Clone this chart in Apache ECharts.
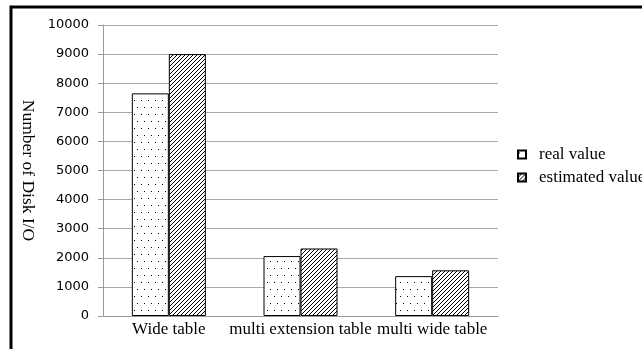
<!DOCTYPE html>
<html>
<head>
<meta charset="utf-8">
<script src="https://cdn.jsdelivr.net/npm/echarts@6/dist/echarts.min.js"></script>
<style>
html,body{margin:0;padding:0;background:#fff;}
#c{width:642px;height:349px;}
</style>
</head>
<body>
<div id="c"></div>
<script>
const categories = ['Wide table', 'multi extension table', 'multi wide table'];
const realValue = [7650, 2060, 1370];
const estimatedValue = [9000, 2320, 1570];
const yTicks = [0, 1000, 2000, 3000, 4000, 5000, 6000, 7000, 8000, 9000, 10000];

function dotPattern() {
  const c = document.createElement('canvas');
  c.width = 7; c.height = 14;
  const ctx = c.getContext('2d');
  ctx.fillStyle = '#fff';
  ctx.fillRect(0, 0, 7, 14);
  ctx.fillStyle = '#000';
  ctx.fillRect(1, 2, 1, 1);
  ctx.fillRect(4, 9, 1, 1);
  return c;
}
function hatchPattern() {
  const s = 4;
  const c = document.createElement('canvas');
  c.width = s; c.height = s;
  const ctx = c.getContext('2d');
  ctx.fillStyle = '#fff';
  ctx.fillRect(0, 0, s, s);
  ctx.strokeStyle = '#000';
  ctx.lineWidth = 1;
  ctx.beginPath();
  ctx.moveTo(-1, s + 1); ctx.lineTo(s + 1, -1);
  ctx.moveTo(-1, 1); ctx.lineTo(1, -1);
  ctx.moveTo(s - 1, s + 1); ctx.lineTo(s + 1, s - 1);
  ctx.stroke();
  return c;
}

const chart = echarts.init(document.getElementById('c'), null, {renderer: 'canvas'});
const serif = 'Liberation Serif';
chart.setOption({
  backgroundColor: '#fff',
  animation: false,
  graphic: [{
    type: 'rect',
    shape: {x: 11, y: 7, width: 700, height: 400},
    style: {fill: null, stroke: '#000', lineWidth: 3},
    silent: true, z: 100
  }],
  legend: {
    orient: 'vertical',
    left: 512,
    top: 141,
    itemWidth: 8,
    itemHeight: 8,
    itemGap: 6,
    icon: 'rect',
    textStyle: {fontFamily: serif, fontSize: 17, color: '#000', padding: [0, 0, 0, 8]},
    data: ['real value', 'estimated value']
  },
  grid: {left: 103, right: 144, top: 25, bottom: 33, containLabel: false},
  xAxis: {
    type: 'category',
    data: categories,
    axisLine: {lineStyle: {color: '#999', width: 1}},
    axisTick: {show: false},
    axisLabel: {fontFamily: serif, fontSize: 17, color: '#000', margin: 5, interval: 0}
  },
  yAxis: {
    type: 'value',
    min: 0, max: 10000, interval: 1000,
    name: 'Number of Disk I/O',
    nameLocation: 'middle',
    nameRotate: -90,
    nameGap: 57,
    nameTextStyle: {fontFamily: serif, fontSize: 17.5, color: '#000'},
    axisLine: {show: true, lineStyle: {color: '#999', width: 1}},
    axisTick: {show: true, length: 5, lineStyle: {color: '#999'}},
    axisLabel: {fontFamily: 'DejaVu Sans', fontSize: 13, color: '#000', margin: 14,
      formatter: v => yTicks.includes(v) ? String(v) : ''},
    splitLine: {lineStyle: {color: '#aaa', width: 1}}
  },
  series: [
    {
      name: 'real value', type: 'bar', data: realValue,
      barWidth: 37, barGap: '0%',
      itemStyle: {color: {image: dotPattern(), repeat: 'repeat'}, borderColor: '#000', borderWidth: 1}
    },
    {
      name: 'estimated value', type: 'bar', data: estimatedValue,
      barWidth: 37, barGap: '0%',
      itemStyle: {color: {image: hatchPattern(), repeat: 'repeat'}, borderColor: '#000', borderWidth: 1}
    }
  ]
});
</script>
</body>
</html>
